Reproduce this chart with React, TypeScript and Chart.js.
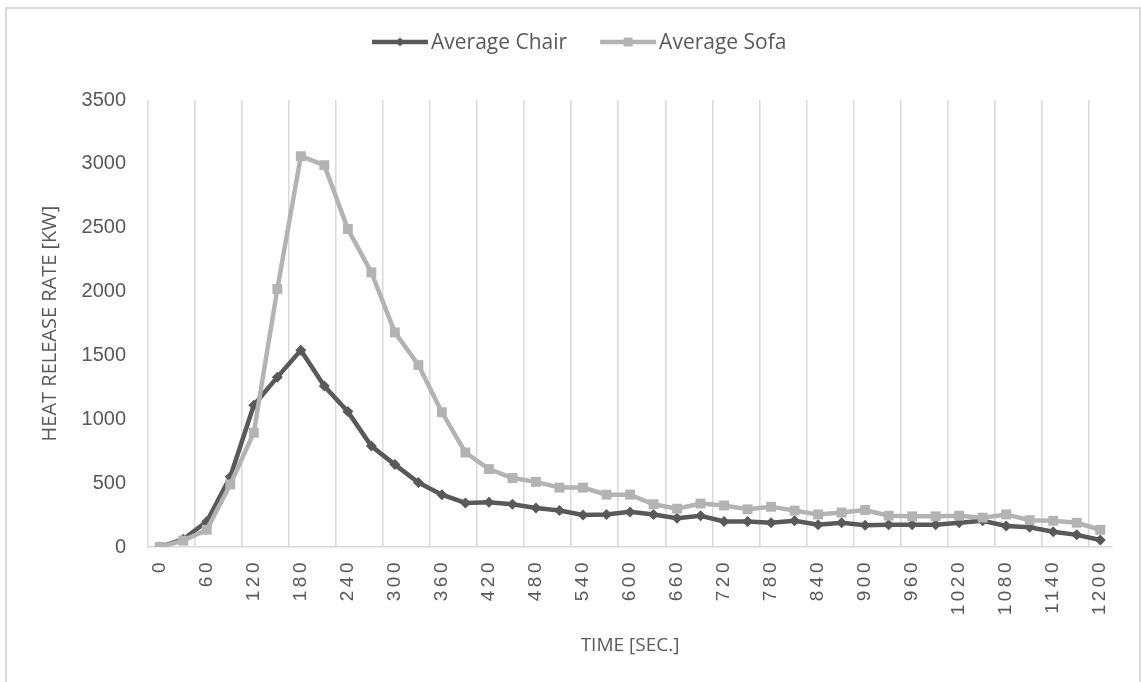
import { useEffect, useRef } from 'react';
import { Chart, registerables } from 'chart.js';

Chart.register(...registerables);

const timeLabels = [
  '0', '30', '60', '90', '120', '150', '180', '210', '240', '270', '300',
  '330', '360', '390', '420', '450', '480', '510', '540', '570', '600',
  '630', '660', '690', '720', '750', '780', '810', '840', '870', '900',
  '930', '960', '990', '1020', '1050', '1080', '1110', '1140', '1170', '1200',
];

const chairValues = [
  0, 60, 200, 550, 1110, 1330, 1540, 1260, 1060, 790, 645,
  505, 410, 345, 350, 335, 305, 285, 250, 255, 275,
  255, 225, 245, 200, 200, 190, 205, 175, 190, 170,
  175, 175, 175, 190, 205, 165, 155, 120, 95, 55,
];

const sofaValues = [
  0, 50, 135, 490, 895, 2020, 3060, 2990, 2490, 2150, 1680,
  1425, 1055, 740, 610, 540, 510, 465, 465, 410, 410,
  335, 300, 340, 325, 295, 315, 285, 255, 270, 290,
  245, 240, 240, 245, 230, 255, 210, 205, 190, 135,
];

const seriesNames = ['Average Chair', 'Average Sofa'];
const seriesColors = ['#595959', '#b3b3b3'];
const xTitle = 'TIME [SEC.]';
const yTitle = 'HEAT RELEASE RATE [KW]';
const yMax = 3500;
const yStep = 500;

const TEXT = '#595959';
const GRID = '#d9d9d9';

const lineLegend = {
  id: 'lineLegend',
  beforeDraw(chart: any) {
    chart.ctx.letterSpacing = '0px';
  },
  afterDatasetsDraw(chart: any) {
    // spacing for the x tick labels (drawn after datasets, z = 1)
    chart.ctx.letterSpacing = '3.5px';
  },
  afterDraw(chart: any) {
    const ctx = chart.ctx;
    ctx.letterSpacing = '0px';
    ctx.save();
    ctx.font = '21px "Open Sans"';
    const lineW = 56;
    const gapLine = 3;
    const gapItem = 33;
    const items = chart.data.datasets.map((ds: any) => ({
      label: ds.label,
      color: ds.borderColor,
      style: ds.pointStyle,
      w: ctx.measureText(ds.label).width,
    }));
    let total = 0;
    items.forEach((it: any, i: number) => {
      total += lineW + gapLine + it.w + (i < items.length - 1 ? gapItem : 0);
    });
    let x = 372;
    const y = 42;
    items.forEach((it: any) => {
      ctx.strokeStyle = it.color;
      ctx.lineWidth = 4.5;
      ctx.beginPath();
      ctx.moveTo(x, y);
      ctx.lineTo(x + lineW, y);
      ctx.stroke();
      const cx = x + lineW / 2;
      ctx.fillStyle = it.color;
      ctx.beginPath();
      if (it.style === 'rectRot') {
        ctx.moveTo(cx - 4.5, y);
        ctx.lineTo(cx, y - 4.5);
        ctx.lineTo(cx + 4.5, y);
        ctx.lineTo(cx, y + 4.5);
        ctx.closePath();
      } else {
        ctx.rect(cx - 4.5, y - 4.5, 9, 9);
      }
      ctx.fill();
      ctx.fillStyle = TEXT;
      ctx.textBaseline = 'middle';
      ctx.textAlign = 'left';
      ctx.fillText(it.label, x + lineW + gapLine, y + 1);
      x += lineW + gapLine + it.w + gapItem;
    });
    ctx.restore();
  },
};

export default function App() {
  const canvasRef = useRef<HTMLCanvasElement | null>(null);

  useEffect(() => {
    if (!canvasRef.current) return;
    const chart = new Chart(canvasRef.current, {
      type: 'line',
      data: {
        labels: timeLabels,
        datasets: [
          {
            label: seriesNames[0],
            data: chairValues,
            borderColor: seriesColors[0],
            backgroundColor: seriesColors[0],
            borderWidth: 4.5,
            pointStyle: 'rectRot',
            pointRadius: 5.5,
            pointBorderWidth: 0,
            pointBackgroundColor: seriesColors[0],
            tension: 0,
            order: 1,
          },
          {
            label: seriesNames[1],
            data: sofaValues,
            borderColor: seriesColors[1],
            backgroundColor: seriesColors[1],
            borderWidth: 4.5,
            pointStyle: 'rect',
            pointRadius: 7,
            pointBorderWidth: 0,
            pointBackgroundColor: seriesColors[1],
            tension: 0,
            order: 0,
          },
        ],
      },
      options: {
        responsive: false,
        animation: false,
        events: [],
        layout: { padding: { top: 100, right: 29, left: 0, bottom: 0 } },
        plugins: {
          legend: { display: false },
          tooltip: { enabled: false },
        },
        scales: {
          x: {
            type: 'category',
            offset: true,
            afterFit: (s: any) => { s.height = 135; },
            grid: {
              offset: true,
              drawTicks: false,
              lineWidth: 1.5,
              color: (c: any) => (c.index !== undefined && c.index % 2 === 0 ? GRID : 'rgba(0,0,0,0)'),
            },
            border: { display: true, color: GRID, width: 1.5 },
            ticks: {
              autoSkip: false,
              maxRotation: 90,
              minRotation: 90,
              padding: 12,
              z: 1,
              color: TEXT,
              font: { family: '"Liberation Sans", Arial, sans-serif', size: 19 },
              callback: (_v: any, i: number) => (i % 2 === 0 ? timeLabels[i] : ''),
            },
            title: {
              display: true,
              text: xTitle,
              color: TEXT,
              font: { family: '"Open Sans", sans-serif', size: 19 },
              padding: { top: 0, bottom: 25 },
            },
          },
          y: {
            min: 0,
            max: yMax,
            afterFit: (s: any) => { s.width = 148; },
            grid: { display: false, drawTicks: false },
            border: { display: false },
            ticks: {
              stepSize: yStep,
              padding: 22,
              color: TEXT,
              font: { family: '"Liberation Sans", Arial, sans-serif', size: 20 },
              callback: (v: any) => String(v),
            },
            title: {
              display: true,
              text: yTitle,
              color: TEXT,
              font: { family: '"Open Sans", sans-serif', size: 20 },
              padding: { top: 38, bottom: 0 },
            },
          },
        },
      },
      plugins: [lineLegend],
    });
    return () => chart.destroy();
  }, []);

  return (
    <div style={{ position: 'fixed', inset: 0, overflow: 'hidden', background: '#fff' }}>
      <div
        style={{
          position: 'absolute',
          left: 5,
          top: 7,
          width: 1136,
          height: 700,
          border: '2px solid #d9d9d9',
          boxSizing: 'border-box',
        }}
      />
      <canvas
        ref={canvasRef}
        width={1141}
        height={682}
        style={{ position: 'absolute', left: 0, top: 0 }}
      />
    </div>
  );
}
